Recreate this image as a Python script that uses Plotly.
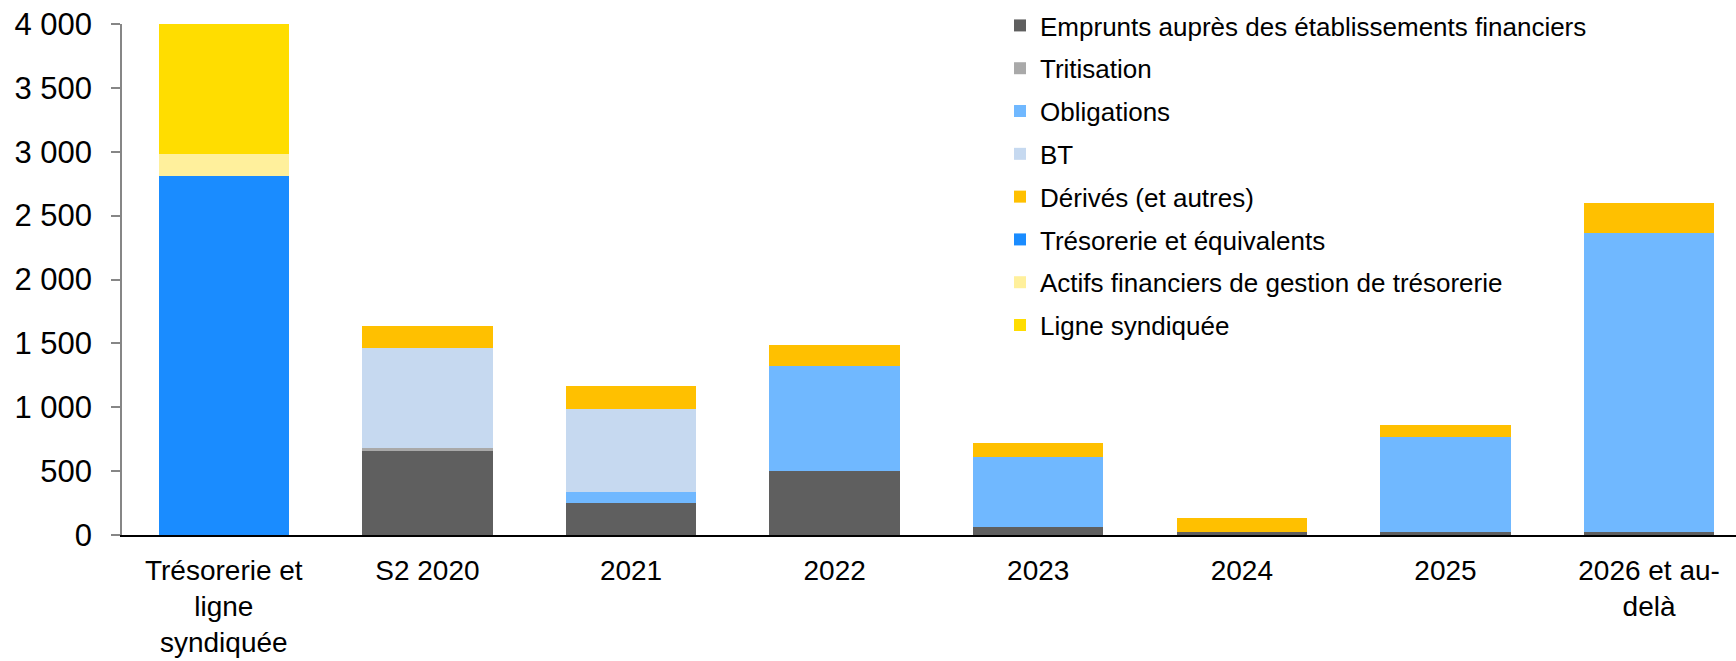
import plotly.graph_objects as go

# Échéancier de la dette et liquidité disponible (en M€)
categories = [
    "Trésorerie et<br>ligne<br>syndiquée",
    "S2 2020", "2021", "2022", "2023", "2024", "2025",
    "2026 et au-<br>delà",
]

emprunts = [0, 659, 252, 502, 60, 24, 21, 25]
tritisation = [0, 22, 0, 0, 0, 0, 0, 0]
obligations = [0, 0, 83, 823, 550, 0, 745, 2340]
bt = [0, 785, 648, 0, 0, 0, 0, 0]
derives = [0, 170, 183, 160, 107, 109, 96, 230]
tresorerie = [2810, 0, 0, 0, 0, 0, 0, 0]
actifs = [173, 0, 0, 0, 0, 0, 0, 0]
ligne = [1017, 0, 0, 0, 0, 0, 0, 0]

series = [
    ("Emprunts auprès des établissements financiers", emprunts, "#5F5F5F"),
    ("Tritisation", tritisation, "#A9A9A9"),
    ("Obligations", obligations, "#70B8FF"),
    ("BT", bt, "#C6D9F0"),
    ("Dérivés (et autres)", derives, "#FFC000"),
    ("Trésorerie et équivalents", tresorerie, "#1A8CFF"),
    ("Actifs financiers de gestion de trésorerie", actifs, "#FFF09C"),
    ("Ligne syndiquée", ligne, "#FFDD00"),
]

FONT = "Liberation Sans, Arial, sans-serif"

fig = go.Figure()
for i, (name, values, color) in enumerate(series):
    fig.add_trace(go.Bar(
        x=list(range(len(categories))),
        y=values,
        name=name,
        legendgroup=f"g{i}",
        marker=dict(color=color, line=dict(width=0)),
        width=0.64,
    ))

fig.update_layout(
    barmode="stack",
    width=1736,
    height=661,
    margin=dict(l=122, r=0, t=24, b=126),
    paper_bgcolor="white",
    plot_bgcolor="white",
    font=dict(family=FONT, color="black"),
    showlegend=True,
    legend=dict(
        x=0.544, y=1.043, xanchor="left", yanchor="top",
        traceorder="grouped",
        tracegroupgap=6,
        maxheight=640,
        font=dict(size=26, family=FONT, color="black"),
        bgcolor="rgba(0,0,0,0)",
        itemwidth=30,
    ),
    xaxis=dict(
        tickmode="array",
        tickvals=list(range(len(categories))),
        ticktext=categories,
        range=[-0.5, 7.427],
        showline=True, linecolor="black", linewidth=2,
        ticks="", showgrid=False, zeroline=False,
        tickfont=dict(size=28, family=FONT, color="black"),
        ticklabelstandoff=9,
    ),
    yaxis=dict(
        range=[0, 4000],
        tickmode="array",
        tickvals=[0, 500, 1000, 1500, 2000, 2500, 3000, 3500, 4000],
        ticktext=["0", "500", "1 000", "1 500", "2 000", "2 500", "3 000", "3 500", "4 000"],
        showline=True, linecolor="#868686", linewidth=1.5,
        ticks="outside", ticklen=9, tickcolor="#868686", tickwidth=1.5,
        showgrid=False, zeroline=False,
        tickfont=dict(size=31, family=FONT, color="black"),
        ticklabelstandoff=13,
    ),
)

fig.write_html("out.html")
